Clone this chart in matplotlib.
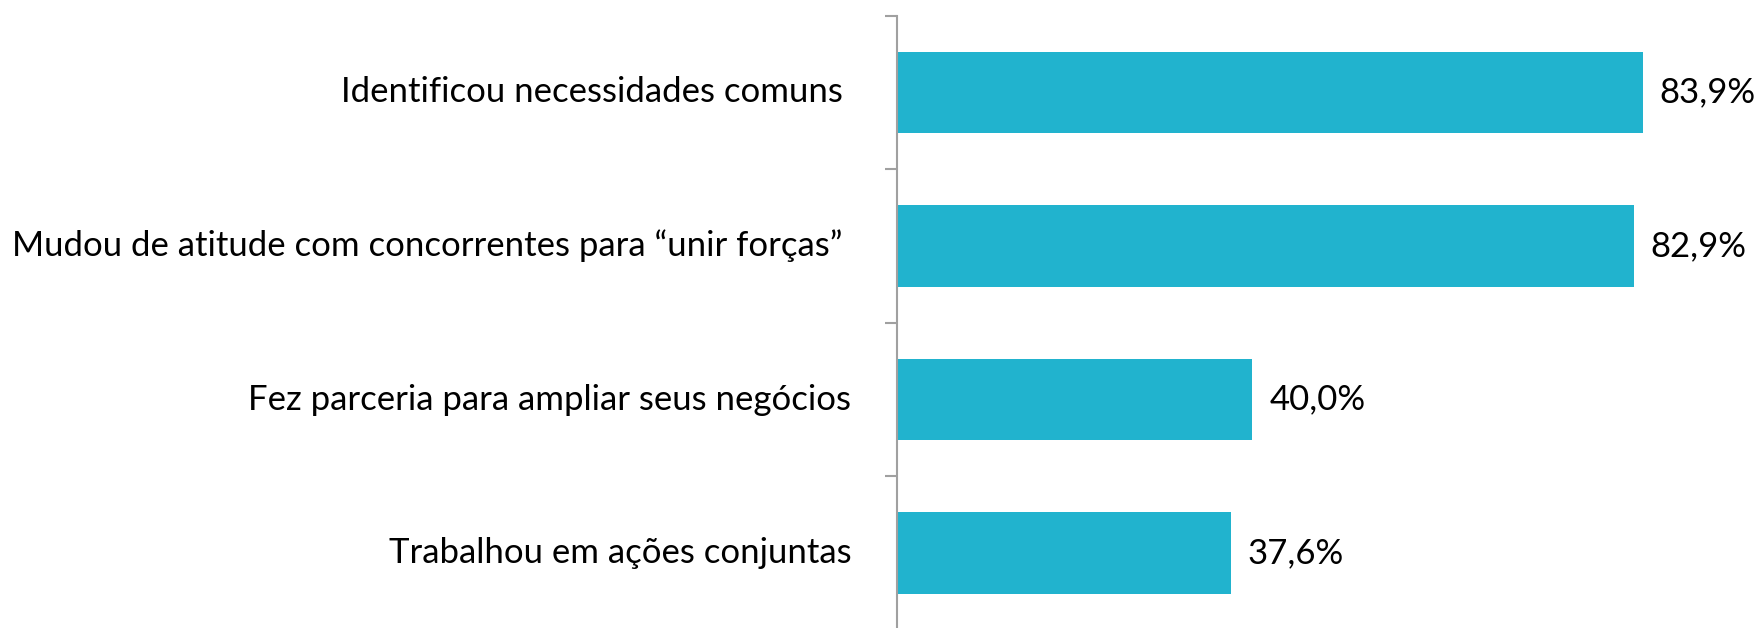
import matplotlib.pyplot as plt
import numpy as np

categories = [
    "Identificou necessidades comuns ",
    "Mudou de atitude com concorrentes para \u201cunir forças\u201d ",
    "Fez parceria para ampliar seus negócios",
    "Trabalhou em ações conjuntas",
]
values = [83.9, 82.9, 40.0, 37.6]
value_labels = ["83,9%", "82,9%", "40,0%", "37,6%"]

plt.rcParams["font.family"] = ["Lato", "DejaVu Sans"]

fig = plt.figure(figsize=(17.57, 6.28), dpi=100)
ax = fig.add_axes([0.5104, -0.003, 0.4858, 0.978])

y = np.arange(len(categories))
ax.barh(y, values, height=0.53, color="#21B3CE")
ax.set_ylim(len(categories) - 0.5, -0.5)
ax.set_xlim(0, 96)

for yi, v, lab in zip(y, values, value_labels):
    ax.text(v + 1.9, yi, lab, va="center", ha="left", fontsize=25)

for yi, cat in zip(y, categories):
    ax.text(-5.1, yi, cat, va="center", ha="right", fontsize=25)

for side in ["top", "right", "bottom"]:
    ax.spines[side].set_visible(False)
ax.spines["left"].set_color("#A0A0A0")
ax.spines["left"].set_linewidth(1.5)
ax.set_xticks([])
ax.set_yticks(np.arange(-0.5, len(categories) + 0.5, 1.0))
ax.set_yticklabels([])
ax.tick_params(axis="y", length=8.5, width=1.5, color="#A0A0A0")

fig.savefig("out.png", dpi=100)
